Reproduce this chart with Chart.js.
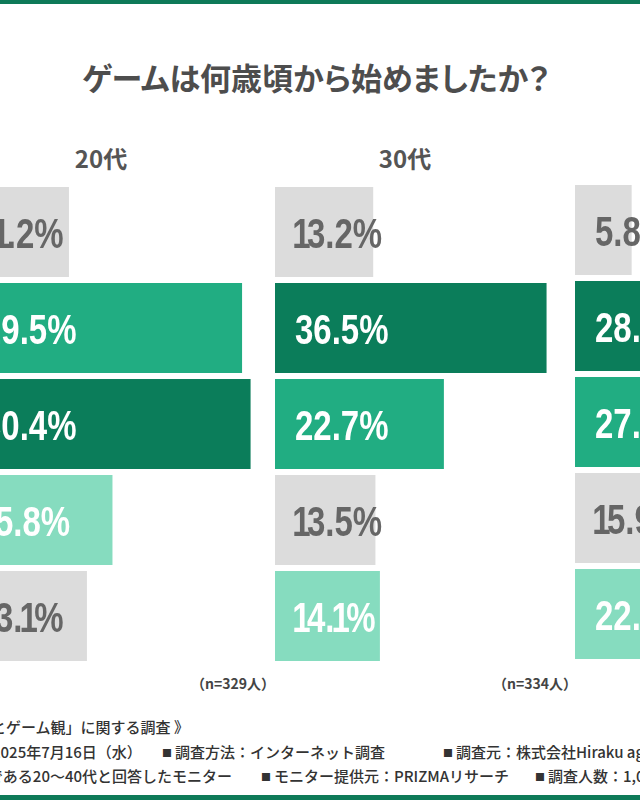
<!DOCTYPE html>
<html lang="ja">
<head>
<meta charset="utf-8">
<script src="https://cdn.jsdelivr.net/npm/chart.js@4.4.1/dist/chart.umd.min.js"></script>
<style>
  html, body { margin:0; padding:0; }
  body { width:640px; height:800px; overflow:hidden; position:relative; background:#fff;
         font-family:"Noto Sans CJK JP", sans-serif; }
  .abs { position:absolute; white-space:nowrap; }
  .bar-top { left:0; top:0; width:640px; height:4px; background:#0E7A58; }
  .bar-bottom { left:0; top:795px; width:640px; height:5px; background:#0E7A58; }
  .title { left:0; width:632px; top:59px; text-align:center; font-size:31px; line-height:36px; font-weight:700; color:#4d4d4d; font-feature-settings:"palt"; }
  .head { font-size:24px; line-height:24px; font-weight:700; color:#555; width:120px; text-align:center; }
  .nlab { font-size:14px; line-height:16px; font-weight:700; color:#444; text-align:right; width:120px; }
  .foot { font-size:15px; line-height:18px; font-weight:500; color:#333; }
  .sq { font-size:10px; padding:0 3px 0 2px; position:relative; top:-1px; }
  canvas { position:absolute; }
</style>
</head>
<body>
<div class="abs bar-top"></div>
<div class="abs title">ゲームは何歳頃から始めましたか？</div>

<div class="abs head" style="left:41px; top:146px;">20代</div>
<div class="abs head" style="left:345px; top:146px;">30代</div>

<canvas id="c20" width="300" height="480" style="left:-37px; top:184px;"></canvas>
<canvas id="c30" width="300" height="480" style="left:275px; top:184px;"></canvas>
<canvas id="c40" width="300" height="480" style="left:575px; top:182px;"></canvas>

<div class="abs nlab" style="left:155px; top:675px;">（n=329人）</div>
<div class="abs nlab" style="left:457px; top:675px;">（n=334人）</div>

<div class="abs foot" style="left:-9px; top:718px;">とゲーム観」に関する調査 》</div>
<div class="abs foot" style="left:-8px; top:743px;">2025年7月16日（水）</div>
<div class="abs foot" style="left:160px; top:743px;"><span class="sq">■</span>調査方法：インターネット調査</div>
<div class="abs foot" style="left:441px; top:743px;"><span class="sq">■</span>調査元：株式会社Hiraku ag</div>
<div class="abs foot" style="left:-12px; top:767px;">である20～40代と回答したモニター</div>
<div class="abs foot" style="left:259px; top:767px;"><span class="sq">■</span>モニター提供元：PRIZMAリサーチ</div>
<div class="abs foot" style="left:533px; top:767px;"><span class="sq">■</span>調査人数：1,0</div>

<div class="abs bar-bottom"></div>

<script>
// ---- data ----
const categories = ['選択肢1', '選択肢2', '選択肢3', '選択肢4', '選択肢5'];
const values20 = [11.2, 29.5, 30.4, 15.8, 13.1];
const values30 = [13.2, 36.5, 22.7, 13.5, 14.1];
const values40 = [5.8, 28.4, 27.2, 15.9, 22.7];

// ---- styles ----
const GRAY = '#DCDCDC';
const RANK_COLORS = ['#0B7D5A', '#21AD82', '#86DCBF'];
function colorsFor(vals) {
  const order = vals.map((v, i) => i).sort((a, b) => vals[b] - vals[a]);
  const cols = vals.map(() => GRAY);
  order.slice(0, 3).forEach((idx, r) => { cols[idx] = RANK_COLORS[r]; });
  return cols;
}

const LABEL_FONT = 'bold 42px "Liberation Sans Narrow", "Liberation Sans", sans-serif';
function drawLabel(ctx, txt, x, y, color) {
  ctx.save();
  ctx.font = LABEL_FONT;
  ctx.fillStyle = color;
  ctx.textBaseline = 'alphabetic';
  ctx.textAlign = 'left';
  const s = 93.5 / ctx.measureText('36.5%').width;
  let cx = x;
  for (const ch of txt) {
    const w = ctx.measureText(ch).width * s;
    let adv = w, dx = 0;
    if (ch === '1') { adv = w * 0.65; dx = -(w - adv) * 0.44; }
    ctx.save();
    ctx.translate(cx + dx, y);
    ctx.scale(s, 1);
    ctx.fillText(ch, 0, 0);
    ctx.restore();
    cx += adv;
  }
  ctx.restore();
}

const barLabels = {
  id: 'barLabels',
  afterDatasetsDraw(chart) {
    const ds = chart.data.datasets[0];
    chart.getDatasetMeta(0).data.forEach((bar, i) => {
      const txt = ds.data[i].toFixed(1) + '%';
      const color = ds.backgroundColor[i] === GRAY ? '#666666' : '#ffffff';
      drawLabel(chart.ctx, txt, bar.base + 20, bar.y + 16, color);
    });
  }
};

function makeChart(id, vals, axisMax) {
  new Chart(document.getElementById(id), {
    type: 'bar',
    data: {
      labels: categories,
      datasets: [{ data: vals, backgroundColor: colorsFor(vals), borderWidth: 0,
                   categoryPercentage: 1, barPercentage: 0.9375 }]
    },
    options: {
      indexAxis: 'y',
      responsive: false,
      animation: false,
      devicePixelRatio: 1,
      layout: { padding: 0 },
      plugins: { legend: { display: false }, tooltip: { enabled: false } },
      scales: {
        x: { display: false, min: 0, max: axisMax },
        y: { display: false }
      }
    },
    plugins: [barLabels]
  });
}

makeChart('c20', values20, 300 / 9.46);
makeChart('c30', values30, 300 / 7.44);
makeChart('c40', values40, 300 / 9.77);
</script>
</body>
</html>
